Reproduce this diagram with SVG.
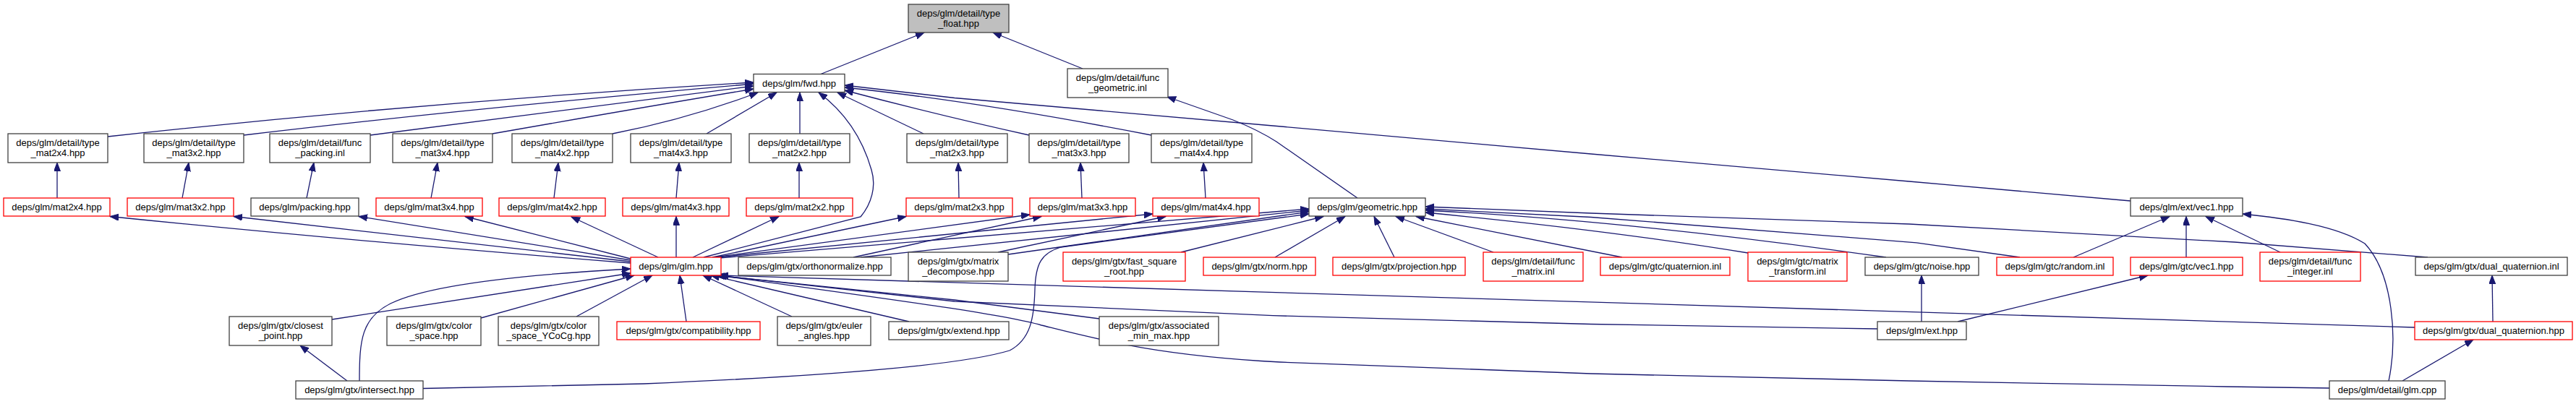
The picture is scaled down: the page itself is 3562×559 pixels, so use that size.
<svg xmlns="http://www.w3.org/2000/svg" width="3562" height="559" viewBox="0 0 3562 559">
<defs>
<marker id="ah" markerUnits="userSpaceOnUse" markerWidth="13" markerHeight="10" refX="12" refY="4.5" orient="auto">
<path d="M0,0 L12,4.5 L0,9 z" fill="#191970" stroke="#191970" stroke-width="1"/>
</marker>
<style>
rect{fill:#fff;stroke:#404040;stroke-width:1.3}
.r rect{stroke:#ff0000}
.g rect{fill:#bfbfbf}
text{font-family:"Liberation Sans",Arial,sans-serif;font-size:13px;fill:#000;text-anchor:middle}
#edges path{fill:none;stroke:#191970;stroke-width:1.3;marker-end:url(#ah)}
</style>
</defs>
<rect x="0" y="0" width="3562" height="559" style="fill:#fff;stroke:none"/>
<g id="edges">
<path d="M1135,102.5 L1278,45"/>
<path d="M1497,95 L1373,45"/>
<path d="M1877,274 L1765,196 Q1740,180 1705,166 L1614,134"/>
<path d="M149,189 Q600,140 1042,114"/>
<path d="M337,187 Q650,150 1042,116"/>
<path d="M512,187 Q800,150 1042,119"/>
<path d="M681,185 Q880,150 1042,123"/>
<path d="M847,185 Q950,165 1048,128"/>
<path d="M977,185 L1074,128"/>
<path d="M1106,185 L1106,128"/>
<path d="M973,356 L1190,300 C1205,282 1212,258 1205,235 C1195,200 1175,160 1132,128"/>
<path d="M1277,185 L1158,128"/>
<path d="M1423,187 Q1300,160 1168,125"/>
<path d="M1592,187 Q1350,140 1168,121"/>
<path d="M2946,278 L2640,251 L2200,213 L1760,174 L1320,135.5 L1168,118"/>
<path d="M79,274 L79,225"/>
<path d="M252,274 L261,225"/>
<path d="M424,274 L434,225"/>
<path d="M596,274 L605,225"/>
<path d="M766,274 L772,225"/>
<path d="M935,274 L939,225"/>
<path d="M1105,274 L1105,225"/>
<path d="M1326,274 L1325,225"/>
<path d="M1496,274 L1494,225"/>
<path d="M1667,274 L1664,225"/>
<path d="M872,364 Q480,333 152,299.5"/>
<path d="M872,362 L323,299.5"/>
<path d="M872,360 L496,299.5"/>
<path d="M872,358 L643,299.5"/>
<path d="M910,356 L790,300"/>
<path d="M935,356 L935,299.5"/>
<path d="M958,356 L1077,299.5"/>
<path d="M985,356 L1253,299.5"/>
<path d="M988,356 L1424,297"/>
<path d="M991,356 L1594,296"/>
<path d="M994,357 L1810,289"/>
<path d="M1180,356 L1440,299.5"/>
<path d="M1190,356 L1810,291"/>
<path d="M1380,349 L1612,299.5"/>
<path d="M1394,352 L1810,293"/>
<path d="M585,537.5 L890,531 C1150,520 1330,505 1396,485 C1425,470 1430,440 1431,400 C1432,365 1440,350 1467,342 L1810,296"/>
<path d="M1633,349 L1830,299.5"/>
<path d="M1763,356 L1860,299.5"/>
<path d="M1928,356 L1900,299.5"/>
<path d="M2065,349 L1930,299.5"/>
<path d="M2243,356 L1958,299.5"/>
<path d="M2417,350 Q2220,318 1971,294"/>
<path d="M2608,356 Q2250,305 1971,291"/>
<path d="M2793,356 L2650,335.8 L2200,300.5 L1971,289"/>
<path d="M3357,356 L3090,335 L2640,310 L2200,295 L1971,286"/>
<path d="M2867,356 L3000,299.5"/>
<path d="M3023,356 L3023,299.5"/>
<path d="M3153,349 L3050,299.5"/>
<path d="M3303,527 C3315,470 3310,380 3270,337 C3230,312 3160,302 3101,296"/>
<path d="M459,442 L872,378"/>
<path d="M665,440 L877,381"/>
<path d="M797,438 L902,381"/>
<path d="M949,445 L940,381"/>
<path d="M1095,438 L972,381"/>
<path d="M1257,445 L983,381"/>
<path d="M1520,441 L1320,415 L990,381"/>
<path d="M2596,455 L2200,448.5 L1760,436.7 L1320,417 L992,381"/>
<path d="M3339,453 L995,381"/>
<path d="M3221,537 L3080,535 L2640,527 L2200,517 L1770,501 C1600,492 1520,470 1440,450 C1380,433 1200,410 993,381"/>
<path d="M497,527 C497,470 500,440 540,420 C600,390 760,378 872,372"/>
<path d="M480,527 L415,478"/>
<path d="M2657,445 L2657,381"/>
<path d="M2707,445 L2970,381"/>
<path d="M3322,527 L3420,470"/>
<path d="M3447,445 L3446,381"/>
</g>
<g id="n_float" class="g"><rect x="1256" y="6" width="139" height="39"/><text x="1325.5" y="22.5">deps/glm/detail/type</text><text x="1325.5" y="36.5">_float.hpp</text></g>
<g id="n_fwd"><rect x="1042" y="102.5" width="126" height="25"/><text x="1105" y="119.5">deps/glm/fwd.hpp</text></g>
<g id="n_fgeom"><rect x="1476" y="95" width="139" height="40"/><text x="1545.5" y="112">deps/glm/detail/func</text><text x="1545.5" y="126">_geometric.inl</text></g>
<g id="n_t24"><rect x="11" y="185" width="138" height="40"/><text x="80" y="202">deps/glm/detail/type</text><text x="80" y="216">_mat2x4.hpp</text></g>
<g id="n_t32"><rect x="199" y="185" width="138" height="40"/><text x="268" y="202">deps/glm/detail/type</text><text x="268" y="216">_mat3x2.hpp</text></g>
<g id="n_fpack"><rect x="373" y="185" width="139" height="40"/><text x="442.5" y="202">deps/glm/detail/func</text><text x="442.5" y="216">_packing.inl</text></g>
<g id="n_t34"><rect x="543" y="185" width="138" height="40"/><text x="612" y="202">deps/glm/detail/type</text><text x="612" y="216">_mat3x4.hpp</text></g>
<g id="n_t42"><rect x="708" y="185" width="139" height="40"/><text x="777.5" y="202">deps/glm/detail/type</text><text x="777.5" y="216">_mat4x2.hpp</text></g>
<g id="n_t43"><rect x="872" y="185" width="139" height="40"/><text x="941.5" y="202">deps/glm/detail/type</text><text x="941.5" y="216">_mat4x3.hpp</text></g>
<g id="n_t22"><rect x="1036" y="185" width="139" height="40"/><text x="1105.5" y="202">deps/glm/detail/type</text><text x="1105.5" y="216">_mat2x2.hpp</text></g>
<g id="n_t23"><rect x="1254" y="185" width="139" height="40"/><text x="1323.5" y="202">deps/glm/detail/type</text><text x="1323.5" y="216">_mat2x3.hpp</text></g>
<g id="n_t33"><rect x="1423" y="185" width="138" height="40"/><text x="1492" y="202">deps/glm/detail/type</text><text x="1492" y="216">_mat3x3.hpp</text></g>
<g id="n_t44"><rect x="1592" y="185" width="139" height="40"/><text x="1661.5" y="202">deps/glm/detail/type</text><text x="1661.5" y="216">_mat4x4.hpp</text></g>
<g id="n_m24" class="r"><rect x="5" y="274" width="147" height="25"/><text x="78.5" y="291">deps/glm/mat2x4.hpp</text></g>
<g id="n_m32" class="r"><rect x="176" y="274" width="147" height="25"/><text x="249.5" y="291">deps/glm/mat3x2.hpp</text></g>
<g id="n_packing"><rect x="347" y="274" width="149" height="25"/><text x="421.5" y="291">deps/glm/packing.hpp</text></g>
<g id="n_m34" class="r"><rect x="520" y="274" width="147" height="25"/><text x="593.5" y="291">deps/glm/mat3x4.hpp</text></g>
<g id="n_m42" class="r"><rect x="690" y="274" width="147" height="25"/><text x="763.5" y="291">deps/glm/mat4x2.hpp</text></g>
<g id="n_m43" class="r"><rect x="861" y="274" width="147" height="25"/><text x="934.5" y="291">deps/glm/mat4x3.hpp</text></g>
<g id="n_m22" class="r"><rect x="1032" y="274" width="147" height="25"/><text x="1105.5" y="291">deps/glm/mat2x2.hpp</text></g>
<g id="n_m23" class="r"><rect x="1253" y="274" width="147" height="25"/><text x="1326.5" y="291">deps/glm/mat2x3.hpp</text></g>
<g id="n_m33" class="r"><rect x="1424" y="274" width="146" height="25"/><text x="1497" y="291">deps/glm/mat3x3.hpp</text></g>
<g id="n_m44" class="r"><rect x="1594" y="274" width="147" height="25"/><text x="1667.5" y="291">deps/glm/mat4x4.hpp</text></g>
<g id="n_geometric"><rect x="1810" y="274" width="161" height="25"/><text x="1890.5" y="291">deps/glm/geometric.hpp</text></g>
<g id="n_extvec1"><rect x="2946" y="274" width="155" height="25"/><text x="3023.5" y="291">deps/glm/ext/vec1.hpp</text></g>
<g id="n_glm" class="r"><rect x="872" y="356" width="125" height="25"/><text x="934.5" y="373">deps/glm/glm.hpp</text></g>
<g id="n_ortho"><rect x="1021" y="356" width="211" height="25"/><text x="1126.5" y="373">deps/glm/gtx/orthonormalize.hpp</text></g>
<g id="n_mdecomp"><rect x="1256" y="349" width="138" height="40"/><text x="1325" y="366">deps/glm/gtx/matrix</text><text x="1325" y="380">_decompose.hpp</text></g>
<g id="n_fastsqrt" class="r"><rect x="1470" y="349" width="169" height="40"/><text x="1554.5" y="366">deps/glm/gtx/fast_square</text><text x="1554.5" y="380">_root.hpp</text></g>
<g id="n_norm" class="r"><rect x="1664" y="356" width="155" height="25"/><text x="1741.5" y="373">deps/glm/gtx/norm.hpp</text></g>
<g id="n_proj" class="r"><rect x="1843" y="356" width="183" height="25"/><text x="1934.5" y="373">deps/glm/gtx/projection.hpp</text></g>
<g id="n_fmatrix" class="r"><rect x="2051" y="349" width="138" height="40"/><text x="2120" y="366">deps/glm/detail/func</text><text x="2120" y="380">_matrix.inl</text></g>
<g id="n_quatinl" class="r"><rect x="2213" y="356" width="179" height="25"/><text x="2302.5" y="373">deps/glm/gtc/quaternion.inl</text></g>
<g id="n_mtrans" class="r"><rect x="2417" y="349" width="137" height="40"/><text x="2485.5" y="366">deps/glm/gtc/matrix</text><text x="2485.5" y="380">_transform.inl</text></g>
<g id="n_noise"><rect x="2579" y="356" width="157" height="25"/><text x="2657.5" y="373">deps/glm/gtc/noise.hpp</text></g>
<g id="n_random" class="r"><rect x="2761" y="356" width="161" height="25"/><text x="2841.5" y="373">deps/glm/gtc/random.inl</text></g>
<g id="n_gtcvec1" class="r"><rect x="2946" y="356" width="155" height="25"/><text x="3023.5" y="373">deps/glm/gtc/vec1.hpp</text></g>
<g id="n_finteger" class="r"><rect x="3125" y="349" width="139" height="40"/><text x="3194.5" y="366">deps/glm/detail/func</text><text x="3194.5" y="380">_integer.inl</text></g>
<g id="n_dqinl"><rect x="3340" y="356" width="210" height="25"/><text x="3445" y="373">deps/glm/gtx/dual_quaternion.inl</text></g>
<g id="n_closest"><rect x="317" y="438" width="142" height="40"/><text x="388" y="455">deps/glm/gtx/closest</text><text x="388" y="469">_point.hpp</text></g>
<g id="n_colorspace"><rect x="535" y="438" width="130" height="40"/><text x="600" y="455">deps/glm/gtx/color</text><text x="600" y="469">_space.hpp</text></g>
<g id="n_ycocg"><rect x="689" y="438" width="139" height="40"/><text x="758.5" y="455">deps/glm/gtx/color</text><text x="758.5" y="469">_space_YCoCg.hpp</text></g>
<g id="n_compat" class="r"><rect x="853" y="445" width="198" height="25"/><text x="952" y="462">deps/glm/gtx/compatibility.hpp</text></g>
<g id="n_euler"><rect x="1075" y="438" width="129" height="40"/><text x="1139.5" y="455">deps/glm/gtx/euler</text><text x="1139.5" y="469">_angles.hpp</text></g>
<g id="n_extend"><rect x="1229" y="445" width="166" height="25"/><text x="1312" y="462">deps/glm/gtx/extend.hpp</text></g>
<g id="n_assoc"><rect x="1520" y="438" width="165" height="40"/><text x="1602.5" y="455">deps/glm/gtx/associated</text><text x="1602.5" y="469">_min_max.hpp</text></g>
<g id="n_ext"><rect x="2596" y="445" width="123" height="25"/><text x="2657.5" y="462">deps/glm/ext.hpp</text></g>
<g id="n_dqhpp" class="r"><rect x="3339" y="445" width="218" height="25"/><text x="3448" y="462">deps/glm/gtx/dual_quaternion.hpp</text></g>
<g id="n_intersect"><rect x="409" y="527" width="176" height="25"/><text x="497" y="544">deps/glm/gtx/intersect.hpp</text></g>
<g id="n_glmcpp"><rect x="3221" y="527" width="160" height="25"/><text x="3301" y="544">deps/glm/detail/glm.cpp</text></g>
</svg>
